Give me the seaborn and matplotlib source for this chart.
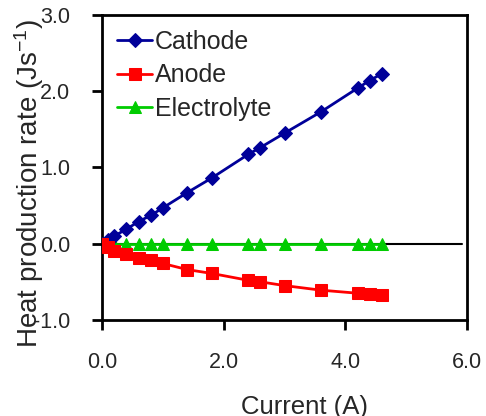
import matplotlib
matplotlib.use("Agg")
import matplotlib.pyplot as plt
import seaborn as sns

# values
current = [0.0, 0.1, 0.2, 0.4, 0.6, 0.8, 1.0, 1.4, 1.8, 2.4, 2.6, 3.0, 3.6, 4.2, 4.4, 4.6]
cathode = [0.0, 0.05, 0.1, 0.19, 0.29, 0.37, 0.47, 0.67, 0.86, 1.17, 1.26, 1.45, 1.73, 2.04, 2.14, 2.23]
anode = [-0.01, -0.05, -0.09, -0.14, -0.19, -0.22, -0.26, -0.34, -0.39, -0.48, -0.50, -0.55, -0.61, -0.65, -0.66, -0.67]
electrolyte = [0.0] * len(current)

yticks = [-1.0, 0.0, 1.0, 2.0, 3.0]
xticks = [0.0, 2.0, 4.0, 6.0]

sns.set_style("ticks")
plt.rcParams["font.family"] = ["Liberation Sans", "DejaVu Sans"]
plt.rcParams["mathtext.default"] = "regular"

fig = plt.figure(figsize=(4.86, 4.16), dpi=100)
ax = fig.add_axes([0.21, 0.231, 0.751, 0.733])

ax.axhline(0, color="black", lw=1.5, xmax=0.985, zorder=1)

sns.lineplot(x=current, y=cathode, ax=ax, color="#000099", marker="D", markersize=7.5,
             markeredgecolor="#000099", lw=2, label="Cathode", zorder=3)
sns.lineplot(x=current, y=anode, ax=ax, color="#ff0000", marker="s", markersize=9,
             markeredgecolor="#ff0000", lw=2, label="Anode", zorder=3)
sns.lineplot(x=current, y=electrolyte, ax=ax, color="#00cc00", marker="^", markersize=9,
             markeredgecolor="#00cc00", lw=2, label="Electrolyte", zorder=2)

ax.set_xlim(0, 6)
ax.set_ylim(-1, 3)
ax.set_xticks(xticks)
ax.set_yticks(yticks)
ax.set_xticklabels([f"{t:.1f}" for t in xticks])
ax.set_yticklabels([f"{t:.1f}" for t in yticks])
ax.tick_params(axis="both", labelsize=15.5, width=2, length=7, color="black", pad=16)

for side in ["left", "right", "top", "bottom"]:
    ax.spines[side].set_visible(True)
    ax.spines[side].set_linewidth(2)
    ax.spines[side].set_color("black")

ax.set_ylabel("Heat production rate (Js$^{-1}$)", fontsize=20, va="center")
ax.yaxis.set_label_coords(-0.2, 0.446)
ax.set_xlabel("Current (A)", fontsize=18.5, va="center")
ax.xaxis.set_label_coords(0.556, -0.285)

ax.legend(loc="upper left", frameon=False, fontsize=18, handlelength=1.4,
          handletextpad=0.12, labelspacing=0.38, borderaxespad=0.2,
          bbox_to_anchor=(0.0, 1.0))

fig.savefig("out.png", dpi=100)
